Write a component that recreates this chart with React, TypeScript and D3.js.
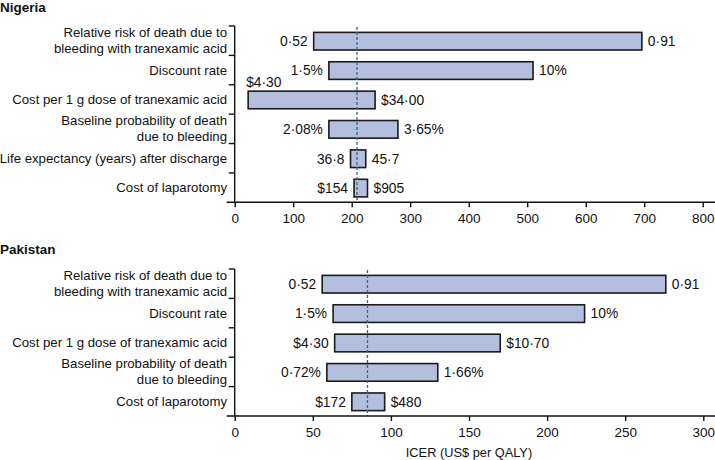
import React, { useEffect, useRef } from "react";
import * as d3 from "d3";

// Nigeria
const nigeriaLabels = [
  ["Relative risk of death due to", "bleeding with tranexamic acid"],
  ["Discount rate"],
  ["Cost per 1 g dose of tranexamic acid"],
  ["Baseline probability of death", "due to bleeding"],
  ["Life expectancy (years) after discharge"],
  ["Cost of laparotomy"],
];
const nigeriaLow = [135, 161, 23, 161, 198, 204];
const nigeriaHigh = [696, 510, 240, 279, 224, 227];
const nigeriaLowText = ["0·52", "1·5%", "$4·30", "2·08%", "36·8", "$154"];
const nigeriaHighText = ["0·91", "10%", "$34·00", "3·65%", "45·7", "$905"];
const nigeriaBase = 209;
const nigeriaTicks = [0, 100, 200, 300, 400, 500, 600, 700, 800];

// Pakistan
const pakistanLabels = [
  ["Relative risk of death due to", "bleeding with tranexamic acid"],
  ["Discount rate"],
  ["Cost per 1 g dose of tranexamic acid"],
  ["Baseline probability of death", "due to bleeding"],
  ["Cost of laparotomy"],
];
const pakistanLow = [56, 63, 64, 59, 75];
const pakistanHigh = [276, 224, 170, 130, 96];
const pakistanLowText = ["0·52", "1·5%", "$4·30", "0·72%", "$172"];
const pakistanHighText = ["0·91", "10%", "$10·70", "1·66%", "$480"];
const pakistanBase = 85;
const pakistanTicks = [0, 50, 100, 150, 200, 250, 300];

const FONT = "'Liberation Sans', Arial, sans-serif";

function drawPanel(svg, p) {
  const g = svg.append("g");
  const x = d3.scaleLinear().domain([0, p.max]).range([234.7, p.xEnd]);
  const y = d3
    .scaleBand()
    .domain(p.labels.map((d, i) => i))
    .range([p.top, p.axisY]);
  const step = y.step();
  const bandTop = (i) => p.top + i * step;

  g.append("text")
    .attr("x", 0)
    .attr("y", p.titleY)
    .attr("font-weight", "bold")
    .attr("font-size", 13.5)
    .text(p.title);

  // category bracket
  g.append("line")
    .attr("x1", x(0)).attr("x2", x(0))
    .attr("y1", p.top).attr("y2", p.axisY)
    .attr("stroke", "#111").attr("stroke-width", 1.4);
  d3.range(p.labels.length).forEach((i) => {
    g.append("line")
      .attr("x1", x(0) - 6).attr("x2", x(0))
      .attr("y1", bandTop(i)).attr("y2", bandTop(i))
      .attr("stroke", "#111").attr("stroke-width", 1.4);
  });

  // category labels
  p.labels.forEach((lines, i) => {
    const c = bandTop(i) + step / 2;
    lines.forEach((ln, j) => {
      const off = lines.length === 1 ? 0 : j === 0 ? -8.5 : 7.5;
      g.append("text")
        .attr("x", 227)
        .attr("y", c + off + 4.6)
        .attr("text-anchor", "end")
        .attr("font-size", 13.2)
        .text(ln);
    });
  });

  // bars
  p.labels.forEach((d, i) => {
    const x0 = x(p.low[i]);
    const x1 = x(p.high[i]);
    const by = bandTop(i) + (step - step * 0.6) / 2 + 0.5;
    const bh = step * 0.6;
    g.append("rect")
      .attr("x", x0).attr("y", by)
      .attr("width", x1 - x0).attr("height", bh)
      .attr("fill", "#b4bfe0")
      .attr("stroke", "#1a1a1a")
      .attr("stroke-width", 1.6);
    if (x0 - x(0) < 40) {
      g.append("text")
        .attr("x", x0 - 2).attr("y", by - 4)
        .attr("font-size", 13.8)
        .text(p.lowText[i]);
    } else {
      g.append("text")
        .attr("x", x0 - 6).attr("y", by + bh / 2 + 4.8)
        .attr("text-anchor", "end")
        .attr("font-size", 13.8)
        .text(p.lowText[i]);
    }
    g.append("text")
      .attr("x", x1 + 6).attr("y", by + bh / 2 + 4.8)
      .attr("font-size", 13.8)
      .text(p.highText[i]);
  });

  // base case line
  g.append("line")
    .attr("x1", x(p.base)).attr("x2", x(p.base))
    .attr("y1", p.top + 1).attr("y2", p.axisY)
    .attr("stroke", "#35687c")
    .attr("stroke-width", 1.3)
    .attr("stroke-dasharray", "3,2");

  // x axis
  g.append("line")
    .attr("x1", x(0) - 8).attr("x2", 715)
    .attr("y1", p.axisY).attr("y2", p.axisY)
    .attr("stroke", "#111").attr("stroke-width", 1.4);
  const ax = g.append("g")
    .attr("transform", `translate(0,${p.axisY})`)
    .call(d3.axisBottom(x).tickValues(p.ticks).tickSize(5).tickSizeOuter(0).tickPadding(6));
  ax.select(".domain").remove();
  ax.selectAll("line").attr("stroke", "#111").attr("stroke-width", 1.4);
  ax.selectAll("text")
    .attr("font-size", 13.5)
    .attr("font-family", FONT)
    .attr("fill", "#111");

  if (p.xTitle) {
    g.append("text")
      .attr("x", (x(0) + x(p.max)) / 2)
      .attr("y", p.axisY + 41)
      .attr("text-anchor", "middle")
      .attr("font-size", 12.8)
      .text(p.xTitle);
  }
}

const App = () => {
  const ref = useRef(null);

  useEffect(() => {
    const svg = d3.select(ref.current);
    svg.selectAll("*").remove();
    svg.attr("font-family", FONT).attr("fill", "#111");

    drawPanel(svg, {
      title: "Nigeria", titleY: 12, top: 26, axisY: 202.3, max: 800, xEnd: 702.7,
      labels: nigeriaLabels, low: nigeriaLow, high: nigeriaHigh,
      lowText: nigeriaLowText, highText: nigeriaHighText,
      base: nigeriaBase, ticks: nigeriaTicks,
    });
    drawPanel(svg, {
      title: "Pakistan", titleY: 254, top: 269, axisY: 416, max: 300, xEnd: 703.3,
      labels: pakistanLabels, low: pakistanLow, high: pakistanHigh,
      lowText: pakistanLowText, highText: pakistanHighText,
      base: pakistanBase, ticks: pakistanTicks, xTitle: "ICER (US$ per QALY)",
    });
  }, []);

  return (
    <svg
      ref={ref}
      width={715}
      height={460}
      style={{ position: "absolute", left: 0, top: 0, background: "#fff" }}
    />
  );
};

export default App;
